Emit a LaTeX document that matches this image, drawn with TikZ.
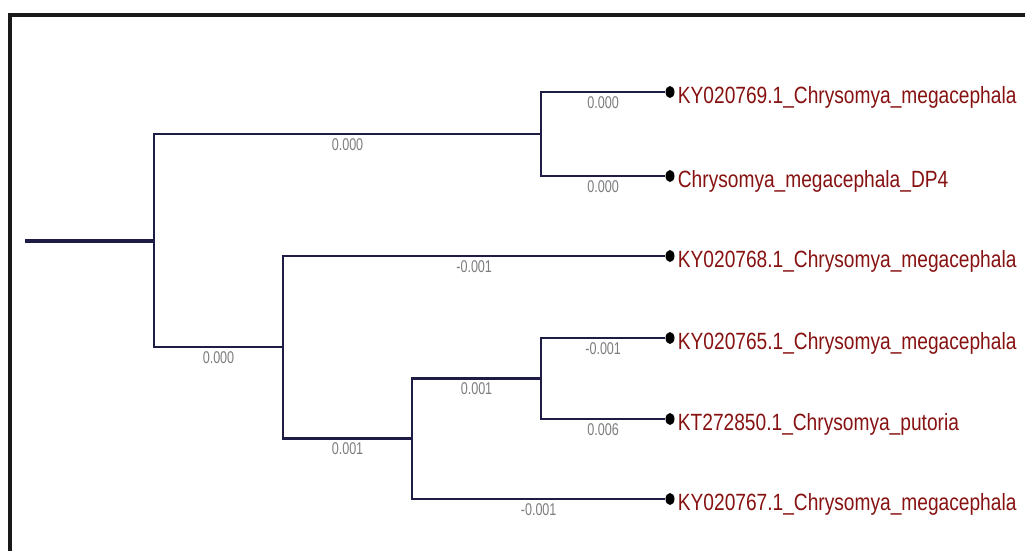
\documentclass[tikz,border=0pt]{standalone}
\usepackage{fontspec}
\setmainfont{Liberation Sans}
\newfontfamily\taxfont[FakeStretch=0.815]{Liberation Sans}
\newfontfamily\lenfont[FakeStretch=0.74]{Liberation Sans}
\usetikzlibrary{positioning,shapes.geometric}
\definecolor{treeblue}{RGB}{28,28,68}
\definecolor{taxred}{RGB}{135,18,18}
\definecolor{lengrey}{RGB}{125,125,125}

\begin{document}
\begin{tikzpicture}
	[x=1pt,y=-1pt,
	 clade/.style={draw=treeblue,line width=2.6pt},
	 rootline/.style={draw=treeblue,line width=3.8pt},
	 frameline/.style={draw=black!90,line width=4.5pt},
	 leafdot/.style={ellipse,fill=black,inner sep=0pt,minimum width=9pt,minimum height=12pt},
	 taxon/.style={text=taxred,inner sep=1pt,yshift=-5pt,font=\taxfont\fontsize{23.5}{25}\selectfont},
	 blen/.style={below=3pt,inner sep=0pt,text=lengrey,font=\lenfont\fontsize{17}{18}\selectfont}]
	\useasboundingbox (0,0) rectangle (1025,550);
	\fill[white] (0,0) rectangle (1025,550);
	\draw[frameline] (10,560) -- (10,15) -- (1035,15);
	
	\coordinate (r) at (25,241);
	\coordinate (A) at (154,241);
	\coordinate (B) at (541,134);
	\coordinate (C) at (283,347);
	\coordinate (D) at (412,438.5);
	\coordinate (E) at (541,378.5);
	
	\foreach \i/\y/\name in {1/92/KY020769.1\_Chrysomya\_megacephala,
	                        2/176/Chrysomya\_megacephala\_DP4,
	                        3/256/KY020768.1\_Chrysomya\_megacephala,
	                        4/338/KY020765.1\_Chrysomya\_megacephala,
	                        5/419/KT272850.1\_Chrysomya\_putoria,
	                        6/499/KY020767.1\_Chrysomya\_megacephala}{
		\node[leafdot] (t\i) at (670,\y) {};
		\node[taxon,right=2pt of t\i] (n\i) {\name};
	}
	
	\draw[rootline] (r) -- (A);
	\foreach \from/\to/\len in {A/B/0.000,B/t1/0.000,B/t2/0.000,A/C/0.000,C/t3/-0.001,
	                            C/D/0.001,D/E/0.001,E/t4/-0.001,E/t5/0.006,D/t6/-0.001}
		\draw[clade] (\from) |- (\to) node[pos=.75,blen] {\len};
\end{tikzpicture}
\end{document}
